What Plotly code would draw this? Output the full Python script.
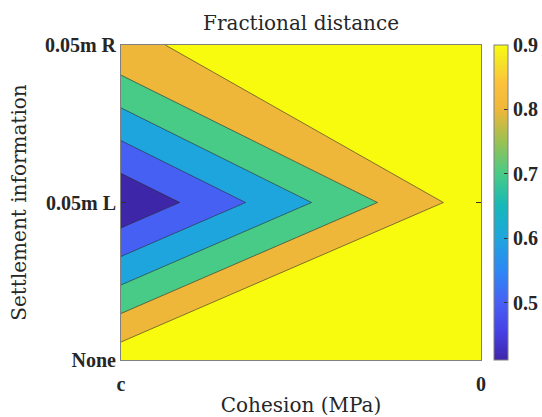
import plotly.graph_objects as go

# ---- data ----
cohesion_labels = ["c", "0"]                      # x categories (left -> right)
settlement_labels = ["None", "0.05m L", "0.05m R"]  # y categories (bottom -> top)
x_pos = [0, 1]
y_pos = [0, 1, 2]
# fractional distance values, rows = settlement (None, L, R), cols = cohesion (c, 0)
frac_none = [0.963, 0.957]
frac_left = [0.411, 0.957]
frac_right = [0.892, 0.957]
z = [frac_none, frac_left, frac_right]
levels_start, levels_end, levels_step = 0.5, 0.9, 0.1
cbar_ticks = [0.5, 0.6, 0.7, 0.8, 0.9]

zmin = min(min(r) for r in z)
zmax_bar = levels_end

# band colours (parula sampled at each level)
band_colors = ["#3e26a8", "#4760f4", "#1fa5de", "#48cb86", "#efb73a", "#f9fb0e"]
fill_scale = [[i / (len(band_colors) - 1), c] for i, c in enumerate(band_colors)]

parula = [
    [0.0, "#3e26a8"], [0.09, "#4641e5"], [0.182, "#4760f4"], [0.28, "#2f86f5"],
    [0.386, "#1fa5de"], [0.49, "#17b8b8"], [0.591, "#48cb86"], [0.70, "#a0c050"],
    [0.795, "#efb73a"], [0.88, "#fcc23c"], [0.95, "#f5e526"], [1.0, "#f9fb0e"],
]

serif_tex = "DejaVu Serif"
serif_bold = "Liberation Serif"
txt = "#262626"

fig = go.Figure()
fig.add_trace(go.Contour(
    x=x_pos, y=y_pos, z=z,
    autocontour=False,
    contours=dict(start=levels_start, end=levels_end, size=levels_step, coloring="fill"),
    colorscale=fill_scale,
    line=dict(color="#2a2a2a", width=0.6, smoothing=0),
    showscale=False,
    hoverinfo="skip",
))
# continuous colour bar
fig.add_trace(go.Scatter(
    x=[0.5, 0.5], y=[1, 1], mode="markers",
    marker=dict(size=1, opacity=0, color=[zmin, zmax_bar], cmin=zmin, cmax=zmax_bar,
                colorscale=parula, showscale=True,
                colorbar=dict(
                    x=1.036, xanchor="left", xpad=0, y=0.5, yanchor="middle", ypad=0,
                    len=1.0, lenmode="fraction", thickness=14, thicknessmode="pixels",
                    outlinecolor="#808080", outlinewidth=1,
                    tickvals=cbar_ticks, ticktext=[f"{v:.1f}" for v in cbar_ticks],
                    ticks="inside", ticklen=4, tickcolor="#333333",
                    tickfont=dict(family=serif_bold, size=20, color=txt, weight="bold"),
                )),
    hoverinfo="skip", showlegend=False,
))

axis_common = dict(
    showgrid=False, zeroline=False, showline=True, mirror="ticks",
    linecolor="#808080", linewidth=1, ticks="inside", ticklen=5, tickcolor="#333333",
)
fig.update_layout(
    width=542, height=417,
    margin=dict(l=121, r=61, t=45, b=57, autoexpand=False),
    paper_bgcolor="white", plot_bgcolor="white",
    showlegend=False,
    title=dict(text="Fractional distance", x=0.5, xref="paper", xanchor="center",
               y=1 - 23 / 417, yref="container", yanchor="middle",
               font=dict(family=serif_tex, size=20, color=txt)),
    xaxis=dict(range=[0, 1], tickvals=x_pos, ticktext=cohesion_labels,
               ticklabelstandoff=6,
               tickfont=dict(family=serif_bold, size=20, color=txt, weight="bold"),
               title=dict(text="Cohesion (MPa)", standoff=4,
                          font=dict(family=serif_tex, size=20, color=txt)),
               **axis_common),
    yaxis=dict(range=[0, 2], tickvals=y_pos, ticktext=settlement_labels,
               tickfont=dict(family=serif_bold, size=20, color=txt, weight="bold"),
               title=dict(text="Settlement information", standoff=12,
                          font=dict(family=serif_tex, size=20, color=txt)),
               **axis_common),
)
fig.write_html("out.html")
